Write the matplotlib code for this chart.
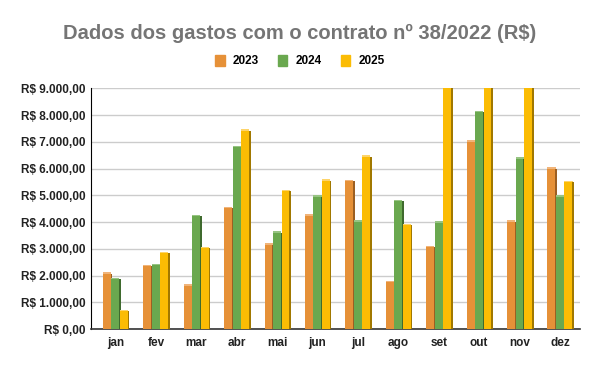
import matplotlib.pyplot as plt
import numpy as np
from matplotlib.patches import Patch

plt.rcParams['font.family'] = ['Liberation Sans', 'DejaVu Sans']

months = ['jan', 'fev', 'mar', 'abr', 'mai', 'jun', 'jul', 'ago', 'set', 'out', 'nov', 'dez']
years = ['2023', '2024', '2025']
v2023 = [2130, 2400, 1680, 4570, 3210, 4300, 5580, 1810, 3110, 7060, 4070, 6050]
v2024 = [1920, 2450, 4270, 6850, 3660, 5010, 4080, 4830, 4030, 8160, 6430, 5010]
v2025 = [720, 2890, 3080, 7480, 5210, 5600, 6510, 3940, 9400, 9400, 9400, 5540]

colors = ['#E69138', '#6AA84F', '#FBBC04']
sides = ['#9C5F22', '#3F6A2E', '#A17800']
tops = ['#F0B47A', '#97C483', '#FDD46A']

fig, ax = plt.subplots(1, 1)
fig.set_size_inches(6, 3.71)
fig.subplots_adjust(left=0.152, right=0.967, top=0.762, bottom=0.113)

x = np.arange(len(months))
w = 0.2
side_w = 0.04
ymax = 9000
for i, vals in enumerate([v2023, v2024, v2025]):
    pos = x + (i - 1) * (w + 0.01)
    vals = np.array(vals)
    ax.bar(pos, vals, width=w, color=colors[i], zorder=3)
    # darker side strip to imitate the 3D look
    ax.bar(pos + w / 2 + side_w / 2 - 0.005, vals - 60, width=side_w, color=sides[i], zorder=3)
    # lighter top cap (not on bars cut off by the axis)
    cap = np.where(vals > ymax, 0, 60)
    ax.bar(pos, cap, bottom=np.minimum(vals, ymax) - cap, width=w, color=tops[i], zorder=4)

ax.set_ylim(0, ymax)
ax.set_xlim(-0.6, 11.5)
ticks = np.arange(0, 9001, 1000)
ax.set_yticks(ticks)
ax.set_yticklabels(['R$ ' + f'{t:,.2f}'.replace(',', 'X').replace('.', ',').replace('X', '.') for t in ticks])
ax.set_xticks(x)
ax.set_xticklabels(months)
ax.tick_params(axis='both', length=0, labelsize=8.5, colors='#222222')
for lbl in ax.get_xticklabels() + ax.get_yticklabels():
    lbl.set_fontweight('bold')
ax.tick_params(axis='y', pad=4)
ax.tick_params(axis='x', pad=6)

ax.grid(True, axis='y', color='#CCCCCC', linewidth=1, zorder=0)
for s in ['top', 'right']:
    ax.spines[s].set_visible(False)
ax.spines['left'].set_color('#000000')
ax.spines['bottom'].set_color('#333333')
ax.spines['bottom'].set_linewidth(1.2)

fig.suptitle('Dados dos gastos com o contrato nº 38/2022 (R$)', fontsize=14.5,
             fontweight='bold', color='#757575', y=0.935)

handles = [Patch(color=c) for c in colors]
leg = fig.legend(handles, years, loc='center', bbox_to_anchor=(0.5, 0.835), ncol=3,
                 frameon=False, handlelength=0.8, handleheight=1.0, columnspacing=1.6,
                 handletextpad=0.7, prop={'weight': 'bold', 'size': 8.5})

fig.savefig('out.png', dpi=100)
